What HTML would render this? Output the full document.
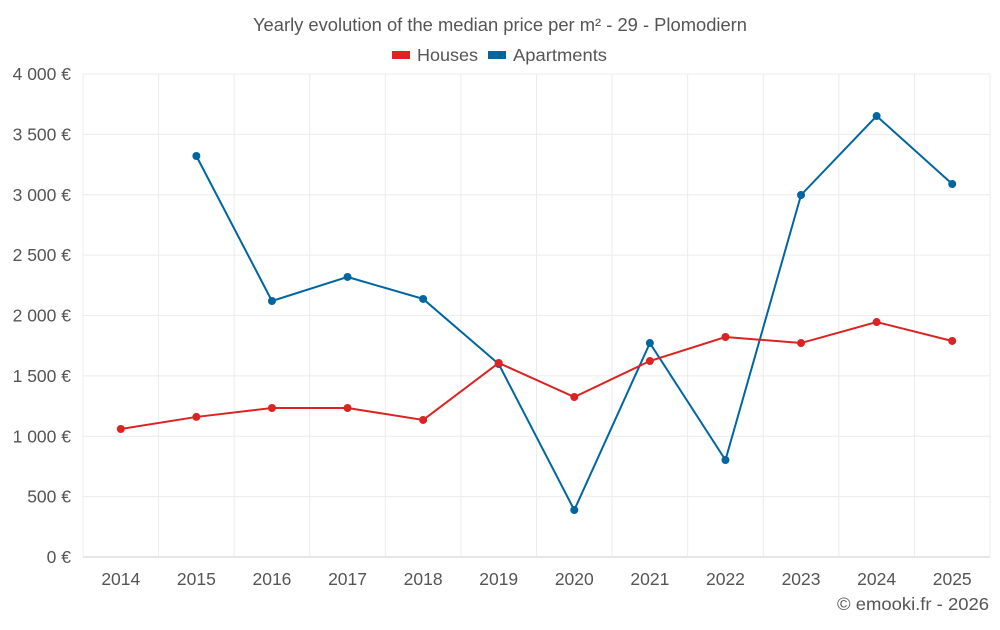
<!DOCTYPE html>
<html><head><meta charset="utf-8"><style>
body{margin:0;background:#fff;}
svg text{font-family:"Liberation Sans",sans-serif;fill:#555;}
</style></head><body>
<svg id="chart" width="1000" height="625" xmlns="http://www.w3.org/2000/svg">
<text x="500" y="31" text-anchor="middle" font-size="18" textLength="494" lengthAdjust="spacingAndGlyphs">Yearly evolution of the median price per m² - 29 - Plomodiern</text>
<g>
<rect x="392" y="51" width="18" height="8" fill="#dd2222"/>
<text x="417" y="61" font-size="17.5" textLength="61" lengthAdjust="spacingAndGlyphs">Houses</text>
<rect x="488" y="51" width="18" height="8" fill="#0066a0"/>
<text x="513" y="61" font-size="17.5" textLength="94" lengthAdjust="spacingAndGlyphs">Apartments</text>
</g>
<g id="grid"></g><g id="axes"></g><g id="series"></g>
<text x="989" y="610" text-anchor="end" font-size="17.5" textLength="152" lengthAdjust="spacingAndGlyphs">© emooki.fr - 2026</text>
</svg>
<script>
const years=[2014,2015,2016,2017,2018,2019,2020,2021,2022,2023,2024,2025];
const houses=[1060,1160,1234,1234,1135,1607,1325,1623,1822,1772,1946,1789];
const apartments=[null,3321,2120,2319,2137,1598,389,1772,803,2998,3652,3089];
const yTicks=[0,500,1000,1500,2000,2500,3000,3500,4000];
const yTickLabels=["0 €","500 €","1 000 €","1 500 €","2 000 €","2 500 €","3 000 €","3 500 €","4 000 €"];
const L=83,R=990,T=74,B=557;
const bw=(R-L)/years.length;
const x=i=>L+bw*(i+0.5);
const y=v=>B-(v/4000)*(B-T);
const NS="http://www.w3.org/2000/svg";
function mk(tag,attrs,parent){const e=document.createElementNS(NS,tag);for(const k in attrs)e.setAttribute(k,attrs[k]);parent.appendChild(e);return e;}
const grid=document.getElementById('grid'),axes=document.getElementById('axes'),series=document.getElementById('series');
yTicks.forEach((t,i)=>{
 const l=mk('line',{x1:L,x2:R,y1:y(t),y2:y(t),stroke:i==0?'#ccc':'#ececec'},grid);
 
 
 const tx=mk('text',{x:71,y:y(t)+6,'text-anchor':'end','font-size':17.5},axes);
 tx.textContent=yTickLabels[i];
 
 
});
for(let i=0;i<=years.length;i++){
 const l=mk('line',{x1:L+bw*i,x2:L+bw*i,y1:T,y2:B,stroke:'#ececec'},grid);
 
 
}
years.forEach((yr,i)=>{
 const tx=mk('text',{x:x(i),y:585,'text-anchor':'middle','font-size':17.5},axes);
 tx.textContent=yr;
 
 
});
function draw(data,color,name){
 let d='';data.forEach((v,i)=>{if(v==null)return;d+=(d?'L':'M')+x(i)+','+y(v);});
 const p=mk('path',{d:d,fill:'none',stroke:color,'stroke-width':2},series);
 
 
 data.forEach((v,i)=>{if(v==null)return;
  const c=mk('circle',{cx:x(i),cy:y(v),r:4,fill:color},series);
  
  
 });
}
draw(apartments,'#0066a0','apartments');
draw(houses,'#dd2222','houses');
</script>
</body></html>
